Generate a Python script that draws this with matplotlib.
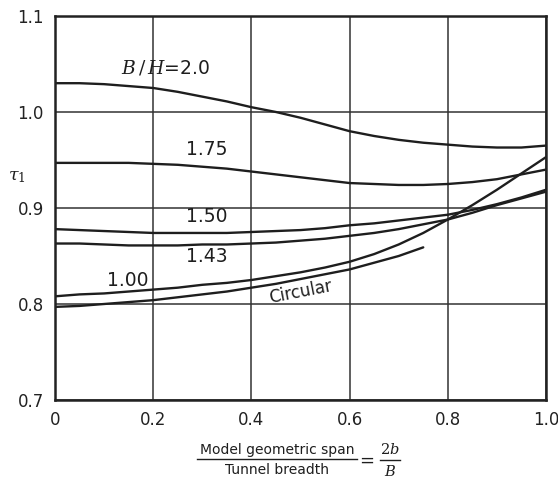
import matplotlib
matplotlib.use("Agg")
import matplotlib.pyplot as plt
from matplotlib.lines import Line2D

# ---- data ----
x_full = [0.0, 0.05, 0.1, 0.15, 0.2, 0.25, 0.3, 0.35, 0.4, 0.45, 0.5,
          0.55, 0.6, 0.65, 0.7, 0.75, 0.8, 0.85, 0.9, 0.95, 1.0]
bh_200 = [1.030, 1.030, 1.029, 1.027, 1.025, 1.021, 1.016, 1.011, 1.005, 1.000, 0.994,
          0.987, 0.980, 0.975, 0.971, 0.968, 0.966, 0.964, 0.963, 0.963, 0.965]
bh_175 = [0.947, 0.947, 0.947, 0.947, 0.946, 0.945, 0.943, 0.941, 0.938, 0.935, 0.932,
          0.929, 0.926, 0.925, 0.924, 0.924, 0.925, 0.927, 0.930, 0.935, 0.940]
bh_150 = [0.878, 0.877, 0.876, 0.875, 0.874, 0.874, 0.874, 0.874, 0.875, 0.876, 0.877,
          0.879, 0.882, 0.884, 0.887, 0.890, 0.893, 0.898, 0.904, 0.911, 0.919]
bh_143 = [0.863, 0.863, 0.862, 0.861, 0.861, 0.861, 0.862, 0.862, 0.863, 0.864, 0.866,
          0.868, 0.871, 0.874, 0.878, 0.883, 0.888, 0.895, 0.903, 0.910, 0.917]
bh_100 = [0.808, 0.810, 0.811, 0.813, 0.815, 0.817, 0.820, 0.822, 0.825, 0.829, 0.833,
          0.838, 0.844, 0.852, 0.862, 0.874, 0.888, 0.903, 0.919, 0.936, 0.953]
x_circ = [0.0, 0.05, 0.1, 0.15, 0.2, 0.25, 0.3, 0.35, 0.4, 0.45, 0.5,
          0.55, 0.6, 0.65, 0.7, 0.75]
circular = [0.797, 0.798, 0.800, 0.802, 0.804, 0.807, 0.810, 0.813, 0.817, 0.821, 0.826,
            0.831, 0.836, 0.843, 0.850, 0.859]

x_ticks = [0, 0.2, 0.4, 0.6, 0.8, 1.0]
x_ticklabels = ["0", "0.2", "0.4", "0.6", "0.8", "1.0"]
y_ticks = [0.7, 0.8, 0.9, 1.0, 1.1]
y_ticklabels = ["0.7", "0.8", "0.9", "1.0", "1.1"]

W, H = 558, 482
fig = plt.figure(figsize=(W / 100, H / 100), dpi=100)
ax = fig.add_axes([55 / W, 1 - 400 / H, (546 - 55) / W, (400 - 16) / H])

ax.set_xlim(0, 1.0)
ax.set_ylim(0.7, 1.1)
ax.set_xticks(x_ticks)
ax.set_xticklabels(x_ticklabels)
ax.set_yticks(y_ticks)
ax.set_yticklabels(y_ticklabels)
ax.tick_params(length=0, labelsize=12, pad=8, colors="#222222")
ax.grid(True, color="#333333", linewidth=1.1)
for s in ax.spines.values():
    s.set_linewidth(1.8)
    s.set_color("#222222")

lw = 1.7
c = "#1e1e1e"
for ys in [bh_200, bh_175, bh_150, bh_143, bh_100]:
    ax.plot(x_full, ys, color=c, lw=lw, solid_capstyle="round")
ax.plot(x_circ, circular, color=c, lw=lw, solid_capstyle="round")

# curve labels
ax.text(0.225, 1.046, r"$B\,/\,H$=2.0", fontsize=13.5, ha="center", va="center",
        color=c, math_fontfamily="dejavuserif")
ax.text(0.31, 0.961, "1.75", fontsize=13.5, ha="center", va="center", color=c)
ax.text(0.31, 0.891, "1.50", fontsize=13.5, ha="center", va="center", color=c)
ax.text(0.31, 0.849, "1.43", fontsize=13.5, ha="center", va="center", color=c)
ax.text(0.148, 0.825, "1.00", fontsize=13.5, ha="center", va="center", color=c)
ax.text(0.5, 0.813, "Circular", fontsize=12, ha="center", va="center", color=c,
        rotation=11)

# y label
fig.text(17 / W, 1 - 176 / H, r"$\tau_1$", fontsize=12.5, ha="center", va="center",
         color=c, math_fontfamily="dejavuserif")

# x label as fraction
fig.text(277 / W, 1 - 450 / H, "Model geometric span", fontsize=10, ha="center",
         va="center", color=c)
fig.text(277 / W, 1 - 470 / H, "Tunnel breadth", fontsize=10, ha="center",
         va="center", color=c)
fig.add_artist(Line2D([197 / W, 357 / W], [1 - 459 / H, 1 - 459 / H],
                      transform=fig.transFigure, color=c, lw=1.0))
fig.text(367 / W, 1 - 461 / H, "=", fontsize=13, ha="center", va="center", color=c)
fig.text(390 / W, 1 - 449 / H, r"$2b$", fontsize=10.5, ha="center", va="center",
         color=c, math_fontfamily="dejavuserif")
fig.text(390 / W, 1 - 472 / H, r"$B$", fontsize=10.5, ha="center", va="center",
         color=c, math_fontfamily="dejavuserif")
fig.add_artist(Line2D([380 / W, 400 / W], [1 - 460 / H, 1 - 460 / H],
                      transform=fig.transFigure, color=c, lw=1.0))

fig.savefig("out.png", dpi=100, facecolor="white")
